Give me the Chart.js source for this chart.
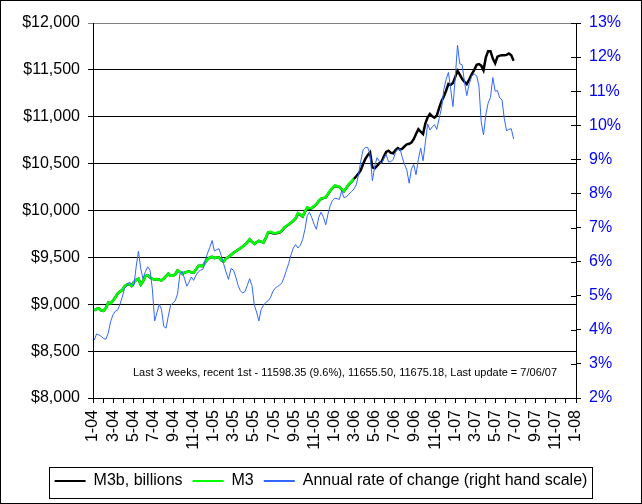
<!DOCTYPE html>
<html>
<head>
<meta charset="utf-8">
<script src="https://cdn.jsdelivr.net/npm/chart.js@4.4.0/dist/chart.umd.min.js"></script>
<style>
  html, body { margin: 0; padding: 0; background: #ffffff; }
  #wrap { width: 642px; height: 504px; }
</style>
</head>
<body>
<div id="wrap"><canvas id="c" width="642" height="504"></canvas></div>
<script>
// ---- Data (weekly, first week = Monday 5 Jan 2004) ----
const firstWeek = [2004, 0, 5];
const m3b = [
  8935, 8950, 8955, 8935, 8930, 8960, 9016, 9010, 9040, 9075,
  9115, 9135, 9150, 9190, 9210, 9215, 9195, 9235, 9260, 9270,
  9210, 9245, 9300, 9310, 9285, 9270, 9265, 9268, 9262, 9255,
  9275, 9300, 9325, 9305, 9305, 9318, 9360, 9345, 9322, 9337,
  9345, 9348, 9342, 9337, 9370, 9409, 9410, 9409, 9450, 9480,
  9500, 9505, 9492, 9500, 9500, 9470, 9455, 9485, 9505, 9525,
  9550, 9565, 9582, 9598, 9615, 9635, 9660, 9692, 9665, 9643,
  9662, 9676, 9668, 9658, 9705, 9765, 9768, 9758, 9756, 9760,
  9765, 9785, 9815, 9835, 9850, 9868, 9890, 9915, 9970, 9955,
  9935, 9985, 10030, 10018, 10025, 10045, 10065, 10100, 10125, 10132,
  10140, 10175, 10210, 10240, 10262, 10258, 10250, 10225, 10205, 10240,
  10280, 10305, 10336, 10365, 10395, 10430, 10495, 10550, 10590, 10620,
  10460, 10450, 10475, 10505, 10520, 10575, 10625, 10638, 10615, 10610,
  10645, 10665, 10650, 10660, 10685, 10705, 10712, 10725, 10760, 10815,
  10868, 10840, 10815, 10930, 10995, 11030, 11005, 10990, 11013, 11095,
  11165, 11215, 11280, 11350, 11340, 11360, 11425, 11490, 11450, 11405,
  11375, 11348, 11400, 11455, 11500, 11555, 11562, 11545, 11495, 11630,
  11700, 11700, 11620, 11570, 11640, 11652, 11655, 11655, 11660, 11675.18,
  11655.50, 11598.35
];
const m3 = [
  8935, 8950, 8955, 8935, 8930, 8960, 9016, 9010, 9040, 9075,
  9115, 9135, 9150, 9190, 9210, 9215, 9195, 9235, 9260, 9270,
  9210, 9245, 9300, 9310, 9285, 9270, 9265, 9268, 9262, 9255,
  9275, 9300, 9325, 9305, 9305, 9318, 9360, 9345, 9322, 9337,
  9345, 9348, 9342, 9337, 9370, 9409, 9410, 9409, 9450, 9480,
  9500, 9505, 9492, 9500, 9500, 9470, 9455, 9485, 9505, 9525,
  9550, 9565, 9582, 9598, 9615, 9635, 9660, 9692, 9665, 9643,
  9662, 9676, 9668, 9658, 9705, 9768, 9772, 9762, 9760, 9764,
  9768, 9788, 9818, 9838, 9853, 9871, 9893, 9918, 9973, 9958,
  9938, 9988, 10033, 10021, 10028, 10048, 10068, 10103, 10128, 10135,
  10143, 10178, 10213, 10243, 10265, 10261, 10253, 10228, 10208, 10243,
  10283, 10308, 10339
];
const annualRate = [
  3.70, 3.88, 3.85, 3.81, 3.75, 3.72, 3.91, 4.25, 4.45, 4.55,
  4.58, 4.75, 4.95, 5.22, 5.28, 5.40, 5.35, 5.30, 5.85, 6.31,
  5.80, 5.50, 5.70, 5.85, 5.75, 5.20, 4.26, 4.50, 4.75, 4.60,
  4.10, 4.05, 4.40, 4.72, 4.79, 4.85, 5.05, 5.63, 5.72, 5.50,
  5.28, 5.40, 5.55, 5.45, 5.60, 5.70, 5.75, 5.78, 6.05, 6.25,
  6.42, 6.62, 6.31, 6.35, 6.38, 6.18, 5.95, 5.70, 5.48, 5.80,
  5.75, 5.55, 5.30, 5.15, 5.08, 5.12, 5.30, 5.50, 5.30, 4.72,
  4.52, 4.26, 4.60, 4.72, 4.80, 4.85, 4.94, 5.12, 5.22, 5.27,
  5.31, 5.38, 5.55, 5.75, 5.95, 6.20, 6.40, 6.50, 6.40, 6.48,
  6.65, 6.95, 7.35, 7.45, 7.29, 7.10, 6.95, 7.30, 7.45, 7.30,
  7.08, 7.40, 7.65, 7.80, 7.86, 7.85, 7.82, 8.08, 7.88, 7.90,
  7.98, 8.05, 8.13, 8.25, 8.55, 8.95, 9.28, 9.35, 9.35, 9.15,
  8.37, 8.80, 9.05, 8.95, 8.88, 9.03, 9.15, 8.93, 8.93, 9.00,
  9.20, 9.30, 9.30, 9.05, 8.85, 8.68, 8.30, 8.72, 8.85, 8.55,
  9.00, 9.33, 8.96, 9.50, 10.04, 9.86, 9.95, 10.02, 9.88, 10.20,
  10.50, 11.05, 11.35, 11.55, 11.05, 10.55, 11.40, 12.35, 11.80, 11.78,
  11.30, 10.87, 11.22, 11.45, 11.50, 11.45, 11.15, 10.10, 9.72, 10.30,
  10.65, 10.82, 11.40, 11.00, 11.02, 10.80, 10.75, 10.20, 9.84, 9.88,
  9.90, 9.60
];
const leftTicks = { min: 8000, max: 12000, step: 500 };
const rightTicks = { min: 2, max: 13, step: 1 };
const axisMonths = { first: [2004, 0], count: 48 };
const seriesNames = ['M3b, billions', 'M3', 'Annual rate of change (right hand scale)'];
const noteText = 'Last 3 weeks, recent 1st - 11598.35 (9.6%), 11655.50, 11675.18, Last update = 7/06/07';

// month position (0 = Jan 2004) of each weekly observation, from its date
function monthPos(i) {
  const d = new Date(firstWeek[0], firstWeek[1], firstWeek[2] + 7 * i);
  const dim = new Date(d.getFullYear(), d.getMonth() + 1, 0).getDate();
  return (d.getFullYear() - axisMonths.first[0]) * 12 + d.getMonth() - axisMonths.first[1] + (d.getDate() - 1) / dim;
}
const toPts = arr => arr.map((v, i) => ({ x: monthPos(i), y: v }));

const FONT = "'Liberation Sans', Arial, sans-serif";

const decor = {
  id: 'decor',
  afterDraw(chart) {
    const ctx = chart.ctx;
    const ca = chart.chartArea;
    ctx.save();
    // inward ticks on right axis
    const y1 = chart.scales.y1;
    ctx.strokeStyle = '#000';
    ctx.lineWidth = 1;
    y1.ticks.forEach(t => {
      const py = Math.round(y1.getPixelForValue(t.value)) + 0.5;
      ctx.beginPath();
      ctx.moveTo(ca.right - 5, py);
      ctx.lineTo(ca.right, py);
      ctx.stroke();
    });
    // note text
    ctx.fillStyle = '#000';
    ctx.font = '11px ' + FONT;
    ctx.textAlign = 'center';
    ctx.textBaseline = 'middle';
    ctx.fillText(noteText, 345, 373);
    // legend box
    const lg = chart.legend;
    if (lg && lg.legendHitBoxes && lg.legendHitBoxes.length) {
      const hb = lg.legendHitBoxes;
      const l = Math.min(...hb.map(h => h.left)) - 6;
      const r = Math.max(...hb.map(h => h.left + h.width)) + 4;
      const t = Math.min(...hb.map(h => h.top)) - 6;
      ctx.strokeStyle = '#000';
      ctx.strokeRect(Math.round(l) + 0.5, Math.round(t) + 0.5, Math.round(r - l), 31);
    }
    // outer border
    ctx.strokeRect(0.5, 0.5, chart.width - 1, chart.height - 1);
    ctx.restore();
  }
};

new Chart(document.getElementById('c'), {
  type: 'line',
  data: {
    datasets: [
      { label: seriesNames[0], data: toPts(m3b), yAxisID: 'y', borderColor: '#000000', backgroundColor: '#000000', borderWidth: 2.5, pointRadius: 0, tension: 0, order: 2 },
      { label: seriesNames[1], data: toPts(m3), yAxisID: 'y', borderColor: '#00ff00', backgroundColor: '#00ff00', borderWidth: 2.5, pointRadius: 0, tension: 0, order: 1 },
      { label: seriesNames[2], data: toPts(annualRate), yAxisID: 'y1', borderColor: '#3366ff', backgroundColor: '#3366ff', borderWidth: 1, pointRadius: 0, tension: 0, order: 0 }
    ]
  },
  options: {
    responsive: false,
    animation: false,
    devicePixelRatio: 1,
    layout: { padding: { top: 23, left: 0, right: 0, bottom: 5 } },
    plugins: {
      tooltip: { enabled: false },
      legend: {
        position: 'bottom',
        labels: {
          font: { family: FONT, size: 16 },
          color: '#000',
          boxWidth: 31,
          boxHeight: 2,
          padding: 10,
          sort: (a, b) => a.datasetIndex - b.datasetIndex,
          generateLabels(chart) {
            const items = Chart.defaults.plugins.legend.labels.generateLabels(chart);
            items.forEach(it => { it.lineWidth = 0; });
            return items;
          }
        }
      }
    },
    scales: {
      x: {
        type: 'linear',
        min: 0,
        max: axisMonths.count,
        afterFit(s) { s.height = 65; },
        border: { display: true, color: '#000', width: 1 },
        grid: { drawOnChartArea: false, drawTicks: true, tickLength: 5, color: '#000' },
        ticks: {
          stepSize: 1,
          autoSkip: false,
          minRotation: 90,
          maxRotation: 90,
          padding: 7,
          color: '#000',
          font: { family: FONT, size: 16 },
          callback(v) {
            if (v % 2 !== 0) return '';
            const m = (axisMonths.first[1] + v) % 12 + 1;
            const y = axisMonths.first[0] + Math.floor((axisMonths.first[1] + v) / 12);
            return m + '-' + String(y % 100).padStart(2, '0');
          }
        }
      },
      y: {
        position: 'left',
        min: leftTicks.min,
        max: leftTicks.max,
        afterFit(s) { s.width = 93; },
        border: { display: true, color: '#000', width: 1 },
        grid: {
          color: ctx => (ctx.tick && ctx.tick.value === leftTicks.max) ? '#808080' : '#000',
          tickLength: 5
        },
        ticks: {
          stepSize: leftTicks.step,
          padding: 8,
          color: '#000',
          font: { family: FONT, size: 16 },
          callback: v => '$' + v.toLocaleString('en-US')
        }
      },
      y1: {
        position: 'right',
        min: rightTicks.min,
        max: rightTicks.max,
        afterFit(s) { s.width = 66; },
        border: { display: true, color: '#000', width: 1 },
        grid: { drawOnChartArea: false, tickLength: 5, color: '#000' },
        ticks: {
          stepSize: rightTicks.step,
          padding: 8,
          color: '#0000ff',
          font: { family: FONT, size: 16 },
          callback: v => v + '%'
        }
      }
    }
  },
  plugins: [decor]
});
</script>
</body>
</html>
